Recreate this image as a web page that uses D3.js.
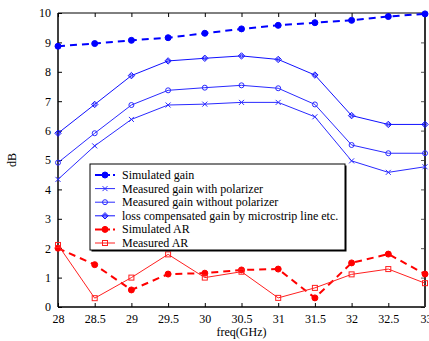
<!DOCTYPE html>
<html>
<head>
<meta charset="utf-8">
<script src="https://cdn.jsdelivr.net/npm/d3@7"></script>
<style>
  body { margin: 0; background: #fff; }
  svg text { font-family: "Liberation Serif", "Times New Roman", Times, serif !important; }
</style>
</head>
<body>
<script>
// x values (GHz)
var freq = [28, 28.5, 29, 29.5, 30, 30.5, 31, 31.5, 32, 32.5, 33];
var xTicks = [28, 28.5, 29, 29.5, 30, 30.5, 31, 31.5, 32, 32.5, 33];
var yTicks = [0, 1, 2, 3, 4, 5, 6, 7, 8, 9, 10];

var simGain = [8.87, 8.96, 9.07, 9.16, 9.31, 9.46, 9.58, 9.67, 9.75, 9.88, 9.97];
var measPol = [4.34, 5.48, 6.38, 6.87, 6.90, 6.96, 6.96, 6.47, 4.97, 4.58, 4.77];
var measNoPol = [4.91, 5.91, 6.87, 7.37, 7.46, 7.54, 7.44, 6.89, 5.51, 5.23, 5.23];
var lossComp = [5.91, 6.89, 7.87, 8.37, 8.46, 8.54, 8.42, 7.89, 6.51, 6.21, 6.21];
var simAR = [2.0, 1.44, 0.58, 1.12, 1.15, 1.26, 1.29, 0.31, 1.5, 1.80, 1.12];
var measAR = [2.11, 0.30, 1.0, 1.79, 1.0, 1.2, 0.31, 0.65, 1.11, 1.29, 0.81];

var series = [
  { name: "Simulated gain", values: simGain, color: "#0000ff", dash: "7,5", width: 2, marker: "dot" },
  { name: "Measured gain with polarizer", values: measPol, color: "#2a2aff", dash: null, width: 1, marker: "x" },
  { name: "Measured gain without polarizer", values: measNoPol, color: "#2a2aff", dash: null, width: 1, marker: "circle" },
  { name: "loss compensated gain by microstrip line etc.", values: lossComp, color: "#1010ff", dash: null, width: 1, marker: "diamond" },
  { name: "Simulated AR", values: simAR, color: "#ff0000", dash: "7,5", width: 2, marker: "dot" },
  { name: "Measured AR", values: measAR, color: "#ff2020", dash: null, width: 1, marker: "square" }
];

var width = 429, height = 341;
var pLeft = 58, pRight = 425, pTop = 13, pBottom = 307;
var serif = "'Liberation Serif', 'Times New Roman', serif";

var svg = d3.select("body").append("svg")
    .attr("width", width)
    .attr("height", height)
    .attr("font-family", serif);

var x = d3.scaleLinear().domain([28, 33]).range([pLeft, pRight]);
var y = d3.scaleLinear().domain([0, 10]).range([pBottom, pTop]);

// axes with inward ticks
var gx = svg.append("g")
    .attr("transform", "translate(0," + pBottom + ")")
    .call(d3.axisBottom(x).tickValues(xTicks).tickSize(-4).tickPadding(7)
      .tickFormat(function(d) { return d; }));
var gxt = svg.append("g")
    .attr("transform", "translate(0," + pTop + ")")
    .call(d3.axisTop(x).tickValues(xTicks).tickSize(-4).tickFormat(""));
var gy = svg.append("g")
    .attr("transform", "translate(" + pLeft + ",0)")
    .call(d3.axisLeft(y).tickValues(yTicks).tickSize(-4).tickPadding(7));
var gyr = svg.append("g")
    .attr("transform", "translate(" + pRight + ",0)")
    .call(d3.axisRight(y).tickValues(yTicks).tickSize(-4).tickFormat(""));

[gx, gxt, gy, gyr].forEach(function(g) {
  g.attr("font-family", serif);
  g.select(".domain").remove();
  g.selectAll(".tick line").attr("stroke", "#000").attr("stroke-width", 1);
  g.selectAll("text").attr("font-size", "12px").attr("fill", "#000");
});
gyr.selectAll(".tick line").attr("stroke", "#555");
gx.selectAll(".tick").filter(function(d) { return d == 33; }).select("text")
    .attr("text-anchor", "start").attr("dx", "-5");

// frame
svg.append("line").attr("x1", pLeft).attr("x2", pRight).attr("y1", pTop).attr("y2", pTop)
    .attr("stroke", "#000").attr("stroke-width", 1);
svg.append("line").attr("x1", pLeft).attr("x2", pRight).attr("y1", pBottom).attr("y2", pBottom)
    .attr("stroke", "#000").attr("stroke-width", 1.5);
svg.append("line").attr("x1", pLeft).attr("x2", pLeft).attr("y1", pTop).attr("y2", pBottom)
    .attr("stroke", "#000").attr("stroke-width", 1.5);
svg.append("line").attr("x1", pRight).attr("x2", pRight).attr("y1", pTop).attr("y2", pBottom)
    .attr("stroke", "#333").attr("stroke-width", 2);

// axis labels
svg.append("text")
    .attr("x", (pLeft + pRight) / 2)
    .attr("y", 336)
    .attr("text-anchor", "middle")
    .attr("font-size", "12px")
    .text("freq(GHz)");
svg.append("text")
    .attr("transform", "translate(16,160) rotate(-90)")
    .attr("text-anchor", "middle")
    .attr("font-size", "12px")
    .text("dB");

function drawMarker(g, type, cx, cy, color) {
  if (type == "dot") {
    g.append("circle").attr("cx", cx).attr("cy", cy).attr("r", 3)
      .attr("fill", color).attr("stroke", color).attr("stroke-width", 1);
  } else if (type == "circle") {
    g.append("circle").attr("cx", cx).attr("cy", cy).attr("r", 2.5)
      .attr("fill", "none").attr("stroke", color).attr("stroke-width", 1);
  } else if (type == "x") {
    g.append("path")
      .attr("d", "M" + (cx - 2.5) + "," + (cy - 2.5) + "L" + (cx + 2.5) + "," + (cy + 2.5) +
                 "M" + (cx - 2.5) + "," + (cy + 2.5) + "L" + (cx + 2.5) + "," + (cy - 2.5))
      .attr("stroke", color).attr("stroke-width", 1);
  } else if (type == "diamond") {
    g.append("path")
      .attr("d", "M" + cx + "," + (cy - 3.2) + "L" + (cx + 3.2) + "," + cy + "L" + cx + "," + (cy + 3.2) +
                 "L" + (cx - 3.2) + "," + cy + "Z")
      .attr("fill", "none").attr("stroke", color).attr("stroke-width", 1);
    g.append("circle").attr("cx", cx).attr("cy", cy).attr("r", 1.5)
      .attr("fill", "none").attr("stroke", color).attr("stroke-width", 0.8);
  } else if (type == "square") {
    g.append("rect").attr("x", cx - 2.5).attr("y", cy - 2.5).attr("width", 5).attr("height", 5)
      .attr("fill", "none").attr("stroke", color).attr("stroke-width", 1);
  }
}

var line = d3.line()
    .x(function(d) { return x(d[0]); })
    .y(function(d) { return y(d[1]); });

series.forEach(function(s) {
  var pts = freq.map(function(f, i) { return [f, s.values[i]]; });
  var g = svg.append("g");
  g.append("path")
    .attr("d", line(pts))
    .attr("fill", "none")
    .attr("stroke", s.color)
    .attr("stroke-width", s.width)
    .attr("stroke-dasharray", s.dash);
  pts.forEach(function(p) { drawMarker(g, s.marker, x(p[0]), y(p[1]), s.color); });
});

// legend
var lx = 90, ly = 164, lw = 255, lh = 86;
svg.append("rect").attr("x", lx + 1.5).attr("y", ly + 1.5).attr("width", lw).attr("height", lh)
    .attr("fill", "#000");
svg.append("rect").attr("x", lx).attr("y", ly).attr("width", lw).attr("height", lh)
    .attr("fill", "#fff").attr("stroke", "#000").attr("stroke-width", 1);

var legend = svg.append("g");
series.forEach(function(s, i) {
  var yy = ly + 11 + i * 13.6;
  var g = legend.append("g");
  g.append("line").attr("x1", lx + 5).attr("x2", lx + 25).attr("y1", yy).attr("y2", yy)
    .attr("stroke", s.color).attr("stroke-width", s.width)
    .attr("stroke-dasharray", s.dash ? "9,3,3,3" : null);
  drawMarker(g, s.marker, lx + 15, yy, s.color);
  g.append("text").attr("x", lx + 32).attr("y", yy + 4)
    .attr("font-size", "12px")
    .text(s.name);
});
</script>
</body>
</html>
